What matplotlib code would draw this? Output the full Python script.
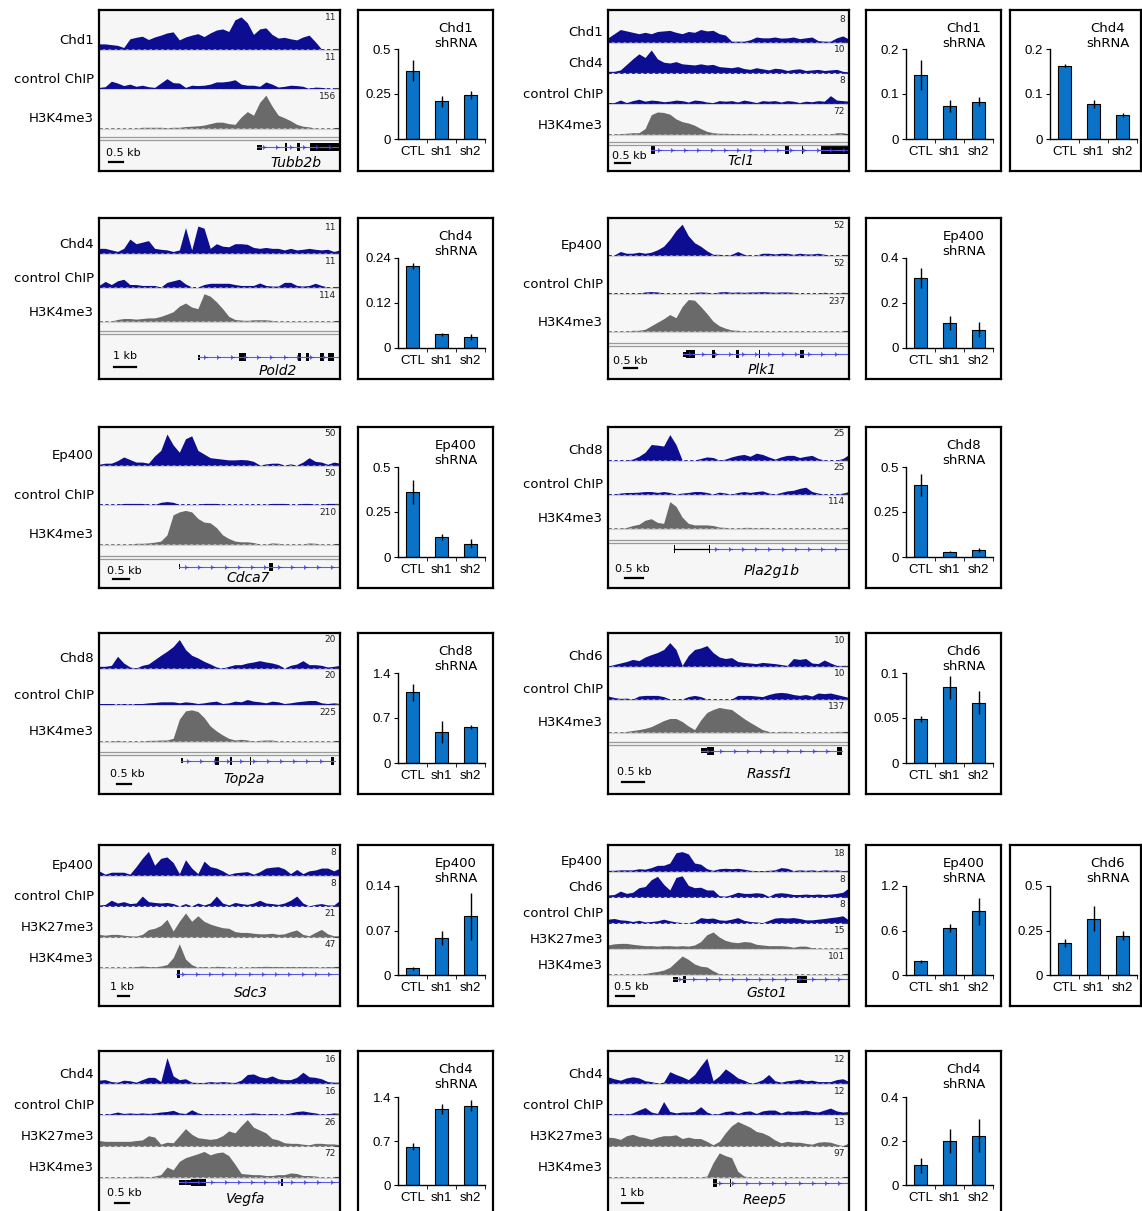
import numpy as np
import matplotlib.pyplot as plt
from matplotlib.patches import Rectangle

plt.rcParams['font.family'] = ['DejaVu Sans']

FW, FH = 1142, 1211
BLUE = '#0d0d91'
GRAY = '#6a6a6a'
BARC = '#0a73c7'
BG = '#f6f6f6'

groups = ['CTL', 'sh1', 'sh2']

# ChIP-seq profiles, % of track scale, 40 bins across the window
tubb2b_chd1 = [14,14,12,10,4,28,32,35,26,33,38,44,47,25,33,38,42,34,44,52,55,48,80,88,72,40,55,58,40,30,32,28,25,33,38,20,0,0,0,0]
tubb2b_ctrl = [3,5,20,15,8,12,6,9,5,3,15,27,16,15,3,9,8,9,12,18,18,20,24,12,9,9,6,18,12,4,6,9,8,6,0,4,3,0,0,0]
tubb2b_k4 = [0,0,0,0,0,0,0,2,2,2,2,1,2,2,4,5,6,8,12,16,16,12,10,30,45,35,70,90,60,35,28,20,10,5,3,0,0,0,0,0]

tcl1_chd1 = [15,30,45,40,35,30,35,30,38,40,42,35,30,38,35,45,40,42,30,25,3,3,3,8,18,15,15,18,14,15,18,12,15,18,5,3,3,15,22,10]
tcl1_chd4 = [5,5,10,30,50,68,55,82,50,38,35,40,32,30,28,32,28,30,22,20,18,22,15,12,18,14,10,16,14,8,12,14,8,10,12,8,10,12,5,3]
tcl1_ctrl = [3,3,12,3,10,15,8,12,10,6,8,12,10,5,12,10,5,3,10,8,10,5,12,8,3,10,8,10,5,10,8,3,8,6,10,8,28,12,10,8]
tcl1_k4 = [0,0,2,3,5,5,20,70,80,78,72,55,45,40,32,20,10,5,3,3,2,2,0,3,0,0,0,0,0,0,0,0,0,0,0,0,0,5,5,0]

pold2_chd4 = [15,15,10,5,15,45,30,35,40,15,12,10,5,10,82,10,87,80,15,30,22,20,30,30,28,18,15,18,15,15,10,15,10,12,15,12,10,12,5,10]
pold2_ctrl = [5,18,8,20,25,8,8,5,5,5,0,15,20,25,10,0,0,8,12,12,12,12,8,5,5,5,13,5,3,3,15,15,5,3,5,12,5,0,0,0]
pold2_k4 = [0,0,0,5,8,8,6,8,10,10,15,22,30,48,58,45,40,88,80,62,40,15,5,3,2,4,4,4,2,0,0,0,0,0,0,0,0,0,0,2]

plk1_ep400 = [0,0,10,5,5,8,5,8,15,25,45,70,88,55,35,25,12,2,2,0,2,10,2,0,0,5,5,3,5,5,2,5,3,3,5,2,0,0,0,0]
plk1_ctrl = [0,0,0,0,0,0,3,4,3,0,0,0,0,0,2,3,2,0,3,4,2,3,2,3,3,4,3,2,3,3,2,0,0,0,0,2,0,0,2,0]
plk1_k4 = [0,0,0,0,2,2,5,15,25,35,47,38,70,90,88,70,50,28,15,8,3,2,0,0,1,0,0,0,0,0,0,0,0,0,0,0,0,0,0,0]

cdca7_ep400 = [2,5,5,12,22,15,8,8,5,25,40,85,55,35,72,80,40,30,20,18,16,14,14,15,14,10,0,3,5,5,0,3,0,8,20,10,8,2,8,5]
cdca7_ctrl = [0,0,0,0,3,3,3,3,0,0,6,8,6,0,0,0,0,3,3,3,0,0,0,0,0,0,0,0,3,3,3,0,0,3,3,0,0,3,3,3]
cdca7_k4 = [0,0,0,0,0,0,2,2,3,5,8,25,80,88,92,88,70,60,58,45,25,15,8,6,6,4,0,0,3,2,0,0,0,0,3,2,0,0,0,0]

pla2g1b_chd8 = [0,0,0,0,3,12,25,50,48,45,82,50,0,0,0,5,10,8,0,3,10,15,18,12,22,18,10,3,10,15,15,8,12,15,5,0,0,0,5,18]
pla2g1b_ctrl = [0,0,3,5,5,6,8,8,5,8,5,0,3,5,8,8,5,0,6,3,0,5,8,5,8,10,3,0,5,10,12,18,22,8,3,0,0,0,3,8]
pla2g1b_k4 = [0,0,0,2,8,12,25,30,18,15,85,70,35,15,10,10,10,8,3,2,0,0,2,2,0,2,0,0,0,0,0,0,0,0,0,0,0,0,0,0]

top2a_chd8 = [5,5,8,35,15,3,0,8,12,25,38,50,64,85,55,38,30,20,12,3,0,5,10,10,15,18,22,18,15,10,0,8,12,22,10,10,8,3,5,8]
top2a_ctrl = [3,3,3,0,3,0,3,3,5,6,8,8,8,5,8,6,3,5,8,10,3,5,10,8,15,10,8,5,10,8,3,5,8,10,12,12,5,3,5,3]
top2a_k4 = [0,0,0,2,0,0,0,0,2,2,3,3,8,65,90,93,88,70,45,30,18,8,3,5,3,0,2,3,3,0,0,0,0,0,0,0,0,0,0,0]

rassf1_chd6 = [0,5,10,15,22,18,30,38,45,55,78,55,2,35,55,60,68,45,30,25,28,15,12,10,8,12,10,8,5,2,25,22,25,10,8,20,10,2,2,2]
rassf1_ctrl = [10,5,2,3,0,10,12,12,12,8,0,0,0,8,12,8,0,0,0,0,0,12,12,12,10,8,15,20,22,20,15,12,15,10,20,18,20,15,10,5]
rassf1_k4 = [0,0,0,2,5,8,12,18,28,38,45,45,35,20,8,40,65,75,82,78,75,60,45,32,20,8,2,0,2,2,0,0,0,0,0,0,0,2,2,0]

sdc3_ep400 = [15,3,10,10,10,3,30,60,85,35,60,65,45,5,55,25,5,50,30,25,15,2,8,10,12,3,12,25,28,30,22,5,20,5,15,18,25,25,15,25]
sdc3_ctrl = [3,5,20,10,15,8,10,35,15,12,10,12,8,0,8,0,10,3,10,35,10,3,12,8,5,10,20,10,8,5,10,20,35,10,0,5,8,3,3,20]
sdc3_k27 = [8,5,8,8,5,3,2,8,25,30,40,62,20,55,85,55,75,55,45,38,32,30,18,15,15,12,10,10,12,8,10,18,24,8,3,15,26,10,3,3]
sdc3_k4 = [0,0,0,0,0,0,3,5,3,2,5,10,35,85,30,10,0,3,0,4,3,0,0,0,0,2,3,4,3,3,2,3,2,3,2,2,0,3,2,4]

gsto1_ep400 = [3,3,5,5,5,10,8,15,25,25,35,80,85,75,35,30,10,3,10,12,10,12,8,3,2,2,3,5,15,12,2,5,3,5,2,5,3,5,2,3]
gsto1_chd6 = [8,10,25,15,20,40,45,75,90,55,30,85,92,50,40,42,30,30,5,3,10,20,15,15,18,15,2,15,18,15,10,10,12,10,12,10,12,15,20,40]
gsto1_ctrl = [15,18,12,10,5,10,3,5,8,15,8,3,0,0,5,22,18,20,12,10,15,22,10,5,3,0,10,20,22,20,22,18,12,12,15,18,22,25,30,10]
gsto1_k27 = [15,20,22,22,18,15,12,12,10,12,12,10,12,10,15,30,60,72,50,35,28,25,30,28,18,15,12,12,12,10,5,10,10,3,0,0,0,0,0,0]
gsto1_k4 = [0,0,0,0,0,0,3,8,12,18,30,55,80,65,45,35,32,15,2,0,0,1,0,0,0,1,0,0,0,1,0,0,0,0,0,0,0,0,0,0]

vegfa_chd4 = [10,12,5,3,10,8,3,12,20,20,5,90,25,12,15,3,2,2,5,3,5,3,2,10,30,32,22,18,25,15,12,12,20,38,22,20,15,5,3,3]
vegfa_ctrl = [0,0,3,8,3,5,3,5,3,5,8,10,14,5,3,16,5,0,3,0,2,0,0,0,3,5,3,0,3,0,0,5,10,12,8,5,0,2,5,3]
vegfa_k27 = [18,15,15,15,15,15,18,20,35,30,5,12,10,35,60,40,28,25,22,25,35,52,45,70,92,65,55,45,25,20,10,8,8,5,3,8,8,6,6,3]
vegfa_k4 = [0,0,0,0,0,0,2,2,0,3,8,35,25,55,68,75,82,90,78,85,88,75,45,12,10,8,8,5,5,8,8,14,12,5,5,3,0,0,0,0]

reep5_chd4 = [22,15,10,18,22,18,8,5,0,3,40,30,22,12,30,60,88,8,25,50,35,18,10,0,3,12,30,8,3,8,10,14,8,10,5,5,5,12,15,5]
reep5_ctrl = [3,0,3,0,5,15,24,8,3,45,10,5,8,8,10,27,8,0,3,10,12,3,10,12,3,12,15,15,5,12,10,12,15,10,8,15,22,12,8,10]
reep5_k27 = [30,28,22,35,40,32,28,22,30,35,35,38,25,30,25,25,15,3,15,45,70,85,75,65,50,45,35,20,10,15,12,12,8,5,12,14,12,5,0,10]
reep5_k4 = [0,0,1,0,0,1,0,0,1,0,0,0,1,0,0,0,3,50,85,75,68,20,3,0,0,0,0,0,0,0,0,0,0,0,0,0,0,0,0,0]

# gene models (fraction of window): transcript span, UTR blocks, exons
tubb2b_gene = dict(span=(0.655, 1.0), utr=[(0.655, 0.675)], exons=[(0.77, 0.782), (0.82, 0.832), (0.877, 1.0)])
tcl1_gene = dict(span=(0.18, 1.0), utr=[], exons=[(0.18, 0.195), (0.735, 0.75), (0.805, 0.81), (0.885, 1.0)])
pold2_gene = dict(span=(0.41, 1.0), utr=[(0.41, 0.418)], exons=[(0.582, 0.612), (0.825, 0.838), (0.857, 0.872), (0.918, 0.933), (0.95, 0.975)])
plk1_gene = dict(span=(0.31, 1.0), utr=[(0.31, 0.325)], exons=[(0.325, 0.36), (0.43, 0.445), (0.53, 0.545), (0.625, 0.632), (0.798, 0.815)])
cdca7_gene = dict(span=(0.33, 1.0), utr=[(0.33, 0.338)], exons=[(0.705, 0.72)])
pla2g1b_gene = dict(span=(0.42, 1.0), utr=[], exons=[(0.273, 0.277), (0.418, 0.422)], dark=(0.275, 0.42))
top2a_gene = dict(span=(0.34, 0.98), utr=[(0.34, 0.35)], exons=[(0.483, 0.497), (0.545, 0.553), (0.625, 0.63), (0.963, 0.975)])
rassf1_gene = dict(span=(0.385, 0.97), utr=[(0.385, 0.41)], exons=[(0.41, 0.44), (0.95, 0.97)])
sdc3_gene = dict(span=(0.32, 1.0), utr=[], exons=[(0.322, 0.335)])
gsto1_gene = dict(span=(0.27, 1.0), utr=[(0.27, 0.29)], exons=[(0.31, 0.325), (0.785, 0.825)])
vegfa_gene = dict(span=(0.33, 1.0), utr=[(0.33, 0.38)], exons=[(0.38, 0.445), (0.757, 0.762)])
reep5_gene = dict(span=(0.435, 1.0), utr=[], exons=[(0.437, 0.452), (0.505, 0.509)])

# knockdown bar values (fold enrichment) and error bars
tubb2b_chd1_kd = [0.38, 0.21, 0.245];   tubb2b_chd1_err = [0.06, 0.03, 0.02]
tcl1_chd1_kd = [0.142, 0.073, 0.083];   tcl1_chd1_err = [0.034, 0.014, 0.01]
tcl1_chd4_kd = [0.163, 0.078, 0.054];   tcl1_chd4_err = [0.003, 0.008, 0.004]
pold2_chd4_kd = [0.218, 0.037, 0.029];  pold2_chd4_err = [0.008, 0.004, 0.007]
plk1_ep400_kd = [0.311, 0.111, 0.081];  plk1_ep400_err = [0.045, 0.03, 0.033]
cdca7_ep400_kd = [0.362, 0.112, 0.073]; cdca7_ep400_err = [0.068, 0.015, 0.025]
pla2g1b_chd8_kd = [0.40, 0.03, 0.04];   pla2g1b_chd8_err = [0.06, 0.004, 0.01]
top2a_chd8_kd = [1.097, 0.486, 0.564];  top2a_chd8_err = [0.13, 0.17, 0.03]
rassf1_chd6_kd = [0.0487, 0.0839, 0.067]; rassf1_chd6_err = [0.003, 0.013, 0.0125]
sdc3_ep400_kd = [0.0104, 0.0585, 0.0925]; sdc3_ep400_err = [0.002, 0.011, 0.037]
gsto1_ep400_kd = [0.187, 0.631, 0.858];  gsto1_ep400_err = [0.02, 0.05, 0.18]
gsto1_chd6_kd = [0.18, 0.315, 0.22];     gsto1_chd6_err = [0.02, 0.07, 0.025]
vegfa_chd4_kd = [0.61, 1.21, 1.26];      vegfa_chd4_err = [0.06, 0.08, 0.09]
reep5_chd4_kd = [0.09, 0.20, 0.225];     reep5_chd4_err = [0.035, 0.055, 0.075]

fig = plt.figure(figsize=(FW / 100, FH / 100), dpi=100)


def px_axes(x0, y0, x1, y1):
    return fig.add_axes([x0 / FW, 1 - y1 / FH, (x1 - x0) / FW, (y1 - y0) / FH])


def browser(box, tracks, base0, step, gname, gene, gy, name_x, name_y, scale, dbl=None):
    x0, x1, y0, y1 = box
    ax = px_axes(x0, y0, x1, y1)
    ax.set_xlim(0, 1)
    ax.set_ylim(y1, y0)
    ax.set_facecolor(BG)
    ax.set_xticks([])
    ax.set_yticks([])
    for s in ax.spines.values():
        s.set_linewidth(1.6)
    px = 1.0 / (x1 - x0)
    for i, (label, top, color, vals) in enumerate(tracks):
        base = base0 + i * step
        h = step - 3
        xs = np.linspace(0, 1, len(vals))
        ys = base - np.asarray(vals, float) / 100 * h
        ax.plot([0, 1], [base + 0.6, base + 0.6], color='#cfcfcf', lw=0.8)
        ax.plot([0, 1], [base, base], color=color, lw=0.6, dashes=(4, 3))
        ax.fill_between(xs, base, ys, color=color, lw=0)
        ax.plot([1 - 5 * px, 1], [base, base], color='#444444', lw=0.8)
        ax.text(1 - 4 * px, base - step + 8, str(top), ha='right', va='center',
                fontsize=6.5, color='#222222')
        ax.text(-5 * px, base - 9, label, ha='right', va='center', fontsize=9.5)
    if dbl:
        for d in dbl:
            ax.plot([0, 1], [d, d], color='#9a9a9a', lw=0.9)
    # gene model
    a, b = gene['span']
    ax.plot([a, b], [gy, gy], color='#5c5ce6', lw=0.8)
    if 'dark' in gene:
        ax.plot(gene['dark'], [gy, gy], color='k', lw=0.9)
    chev = np.arange(a + 0.03, b - 0.01, 0.055)
    ax.plot(chev, [gy] * len(chev), ls='none', marker='4', ms=3.5, mew=0.8, color='#3a3ae0')
    for ua, ub in gene['utr']:
        ax.add_patch(Rectangle((ua, gy - 2.5), ub - ua, 5, color='k', lw=0))
    for ea, eb in gene['exons']:
        ax.add_patch(Rectangle((ea, gy - 4), eb - ea, 8, color='k', lw=0))
    ax.text(name_x, name_y, gname, style='italic', ha='center', va='center', fontsize=10)
    # scale bar
    lab, tx, bx, blen, ty, by = scale
    ax.text(tx * px, ty, lab, ha='left', va='center', fontsize=8)
    ax.plot([bx * px, (bx + blen) * px], [by, by], color='k', lw=1.6)


def bars(box, title, vals, errs, ymax, ticks, ticklabels, top_off=40, zero_off=130):
    x0, x1, y0, y1 = box
    frame = px_axes(x0, y0, x1, y1)
    frame.set_xticks([])
    frame.set_yticks([])
    for s in frame.spines.values():
        s.set_linewidth(1.6)
    frame.set_xlim(0, x1 - x0)
    frame.set_ylim(y1 - y0, 0)
    frame.text(98, 26, title, ha='center', va='center', fontsize=9.5, linespacing=1.25)
    ax = px_axes(x0 + 40, y0 + top_off, x0 + 127, y0 + zero_off)
    ax.patch.set_alpha(0)
    ax.bar(range(3), vals, width=0.42, color=BARC, edgecolor='k', lw=0.8,
           yerr=errs, error_kw=dict(ecolor='k', elinewidth=1, capsize=0))
    ax.set_xlim(-0.5, 2.5)
    ax.set_ylim(0, ymax)
    ax.set_yticks(ticks, ticklabels, fontfamily='Liberation Sans', fontsize=9.5)
    ax.set_xticks(range(3), groups, fontfamily='Liberation Sans', fontsize=9.5)
    ax.set_xticks([0.5, 1.5, 2.5], minor=True)
    ax.tick_params(axis='x', which='major', length=0, pad=5)
    ax.tick_params(axis='x', which='minor', length=3, direction='out')
    ax.tick_params(axis='y', length=3, direction='out', pad=2)
    for s in ['top', 'right']:
        ax.spines[s].set_visible(False)
    for s in ['left', 'bottom']:
        ax.spines[s].set_linewidth(1.0)


# Row 1
browser((99, 340, 10, 171),
        [('Chd1', 11, BLUE, tubb2b_chd1), ('control ChIP', 11, BLUE, tubb2b_ctrl), ('H3K4me3', 156, GRAY, tubb2b_k4)],
        49, 39.5, 'Tubb2b', tubb2b_gene, 147, 0.815, 163, ('0.5 kb', 7, 10, 14, 153, 162), dbl=(137, 140))
bars((358, 493, 10, 171), 'Chd1\nshRNA', tubb2b_chd1_kd, tubb2b_chd1_err, 0.5, [0, 0.25, 0.5], ['0', '0.25', '0.5'], 39, 129)
browser((608, 849, 10, 171),
        [('Chd1', 8, BLUE, tcl1_chd1), ('Chd4', 10, BLUE, tcl1_chd4), ('control ChIP', 8, BLUE, tcl1_ctrl), ('H3K4me3', 72, GRAY, tcl1_k4)],
        42, 30.7, 'Tcl1', tcl1_gene, 150, 0.55, 161, ('0.5 kb', 4, 7, 15, 156, 163), dbl=(142, 145))
bars((866, 1001, 10, 171), 'Chd1\nshRNA', tcl1_chd1_kd, tcl1_chd1_err, 0.2, [0, 0.1, 0.2], ['0', '0.1', '0.2'], 39, 129)
bars((1010, 1141, 10, 171), 'Chd4\nshRNA', tcl1_chd4_kd, tcl1_chd4_err, 0.2, [0, 0.1, 0.2], ['0', '0.1', '0.2'], 39, 129)

# Row 2
browser((99, 340, 218, 379),
        [('Chd4', 11, BLUE, pold2_chd4), ('control ChIP', 11, BLUE, pold2_ctrl), ('H3K4me3', 114, GRAY, pold2_k4)],
        253, 34, 'Pold2', pold2_gene, 357, 0.74, 371, ('1 kb', 14, 15, 22, 356, 367), dbl=(331, 334))
bars((358, 493, 218, 379), 'Chd4\nshRNA', pold2_chd4_kd, pold2_chd4_err, 0.24, [0, 0.12, 0.24], ['0', '0.12', '0.24'])
browser((608, 849, 218, 379),
        [('Ep400', 52, BLUE, plk1_ep400), ('control ChIP', 52, BLUE, plk1_ctrl), ('H3K4me3', 237, GRAY, plk1_k4)],
        255, 38, 'Plk1', plk1_gene, 354, 0.64, 370, ('0.5 kb', 5, 16, 13, 361, 368), dbl=(343, 346))
bars((866, 1001, 218, 379), 'Ep400\nshRNA', plk1_ep400_kd, plk1_ep400_err, 0.4, [0, 0.2, 0.4], ['0', '0.2', '0.4'])

# Row 3
browser((99, 340, 427, 588),
        [('Ep400', 50, BLUE, cdca7_ep400), ('control ChIP', 50, BLUE, cdca7_ctrl), ('H3K4me3', 210, GRAY, cdca7_k4)],
        465, 39.5, 'Cdca7', cdca7_gene, 567, 0.62, 578, ('0.5 kb', 8, 14, 16, 571, 579), dbl=(556, 559))
bars((358, 493, 427, 588), 'Ep400\nshRNA', cdca7_ep400_kd, cdca7_ep400_err, 0.5, [0, 0.25, 0.5], ['0', '0.25', '0.5'])
browser((608, 849, 427, 588),
        [('Chd8', 25, BLUE, pla2g1b_chd8), ('control ChIP', 25, BLUE, pla2g1b_ctrl), ('H3K4me3', 114, GRAY, pla2g1b_k4)],
        460, 34, 'Pla2g1b', pla2g1b_gene, 549, 0.68, 571, ('0.5 kb', 7, 17, 18, 569, 578), dbl=(540, 543))
bars((866, 1001, 427, 588), 'Chd8\nshRNA', pla2g1b_chd8_kd, pla2g1b_chd8_err, 0.5, [0, 0.25, 0.5], ['0', '0.25', '0.5'])

# Row 4
browser((99, 340, 633, 794),
        [('Chd8', 20, BLUE, top2a_chd8), ('control ChIP', 20, BLUE, top2a_ctrl), ('H3K4me3', 225, GRAY, top2a_k4)],
        668, 36.5, 'Top2a', top2a_gene, 761, 0.60, 779, ('0.5 kb', 11, 18, 14, 774, 784), dbl=(752, 755))
bars((358, 493, 633, 794), 'Chd8\nshRNA', top2a_chd8_kd, top2a_chd8_err, 1.4, [0, 0.7, 1.4], ['0', '0.7', '1.4'])
browser((608, 849, 633, 794),
        [('Chd6', 10, BLUE, rassf1_chd6), ('control ChIP', 10, BLUE, rassf1_ctrl), ('H3K4me3', 137, GRAY, rassf1_k4)],
        666, 33, 'Rassf1', rassf1_gene, 751, 0.67, 774, ('0.5 kb', 9, 14, 22, 772, 782), dbl=(742, 745))
bars((866, 1001, 633, 794), 'Chd6\nshRNA', rassf1_chd6_kd, rassf1_chd6_err, 0.1, [0, 0.05, 0.1], ['0', '0.05', '0.1'])

# Row 5
browser((99, 340, 845, 1006),
        [('Ep400', 8, BLUE, sdc3_ep400), ('control ChIP', 8, BLUE, sdc3_ctrl), ('H3K27me3', 21, GRAY, sdc3_k27), ('H3K4me3', 47, GRAY, sdc3_k4)],
        875, 30.8, 'Sdc3', sdc3_gene, 974, 0.63, 993, ('1 kb', 11, 19, 11, 987, 996))
bars((358, 493, 845, 1006), 'Ep400\nshRNA', sdc3_ep400_kd, sdc3_ep400_err, 0.14, [0, 0.07, 0.14], ['0', '0.07', '0.14'], 41, 130)
browser((608, 849, 845, 1006),
        [('Ep400', 18, BLUE, gsto1_ep400), ('Chd6', 8, BLUE, gsto1_chd6), ('control ChIP', 8, BLUE, gsto1_ctrl),
         ('H3K27me3', 15, GRAY, gsto1_k27), ('H3K4me3', 101, GRAY, gsto1_k4)],
        871, 25.8, 'Gsto1', gsto1_gene, 979, 0.66, 993, ('0.5 kb', 6, 8, 18, 987, 996))
bars((866, 1001, 845, 1006), 'Ep400\nshRNA', gsto1_ep400_kd, gsto1_ep400_err, 1.2, [0, 0.6, 1.2], ['0', '0.6', '1.2'], 41, 130)
bars((1010, 1141, 845, 1006), 'Chd6\nshRNA', gsto1_chd6_kd, gsto1_chd6_err, 0.5, [0, 0.25, 0.5], ['0', '0.25', '0.5'], 41, 130)

# Row 6
browser((99, 340, 1051, 1216),
        [('Chd4', 16, BLUE, vegfa_chd4), ('control ChIP', 16, BLUE, vegfa_ctrl), ('H3K27me3', 26, GRAY, vegfa_k27), ('H3K4me3', 72, GRAY, vegfa_k4)],
        1083, 31.3, 'Vegfa', vegfa_gene, 1182, 0.61, 1199, ('0.5 kb', 8, 16, 14, 1193, 1203))
bars((358, 493, 1051, 1216), 'Chd4\nshRNA', vegfa_chd4_kd, vegfa_chd4_err, 1.4, [0, 0.7, 1.4], ['0', '0.7', '1.4'], 46, 134)
browser((608, 849, 1051, 1216),
        [('Chd4', 12, BLUE, reep5_chd4), ('control ChIP', 12, BLUE, reep5_ctrl), ('H3K27me3', 13, GRAY, reep5_k27), ('H3K4me3', 97, GRAY, reep5_k4)],
        1083, 31.3, 'Reep5', reep5_gene, 1183, 0.65, 1200, ('1 kb', 12, 14, 21, 1193, 1203))
bars((866, 1001, 1051, 1216), 'Chd4\nshRNA', reep5_chd4_kd, reep5_chd4_err, 0.4, [0, 0.2, 0.4], ['0', '0.2', '0.4'], 46, 134)

fig.savefig('out.png', dpi=100)
